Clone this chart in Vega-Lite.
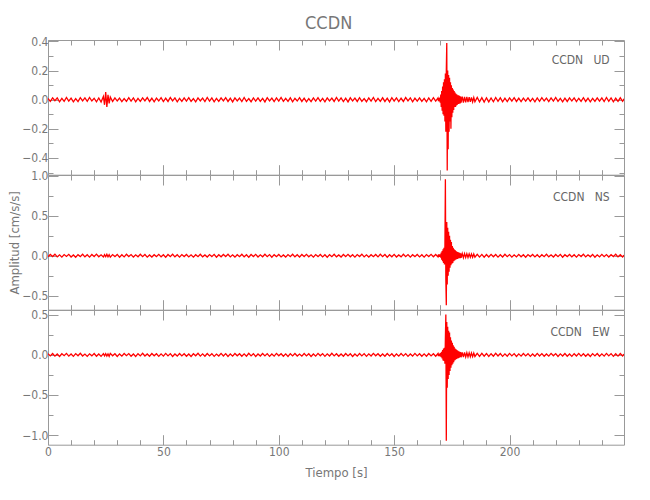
{
  "$schema": "https://vega.github.io/schema/vega-lite/v6.json",
  "padding": {"left": 8, "top": 15, "right": 5, "bottom": 5},
  "bounds": "flush",
  "title": {"text": "CCDN", "fontSize": 18, "font": "Liberation Sans Narrow, DejaVu Sans Condensed", "fontWeight": "normal", "color": "#777", "anchor": "middle", "offset": 2, "dx": 12},
  "config": {
    "view": {"stroke": null},
    "axis": {"grid": false, "domainColor": "#999", "tickColor": "#999", "labelColor": "#777", "labelFont": "Liberation Sans Narrow, DejaVu Sans Condensed", "labelFontSize": 12, "titleFont": "Liberation Sans Narrow, DejaVu Sans Condensed", "titleFontSize": 13, "titleFontWeight": "normal", "titleColor": "#777", "labelOverlap": false, "labelFlush": false}
  },
  "data": {"values": [
    {"t":0,"u":0.008,"n":-0.012,"e":0.015},{"t":1,"u":-0.011,"n":0.016,"e":-0.012},{"t":2,"u":0.013,"n":-0.01,"e":0.018},{"t":3,"u":-0.007,"n":0.019,"e":-0.016},
    {"t":4,"u":0.012,"n":-0.015,"e":0.011},{"t":5,"u":-0.014,"n":0.011,"e":-0.02},{"t":6,"u":0.009,"n":-0.018,"e":0.014},{"t":7,"u":-0.012,"n":0.014,"e":-0.01},
    {"t":8,"u":0.015,"n":-0.009,"e":0.019},{"t":9,"u":-0.01,"n":0.017,"e":-0.015},{"t":10,"u":0.011,"n":-0.016,"e":0.012},{"t":11,"u":-0.015,"n":0.01,"e":-0.018},
    {"t":12,"u":0.007,"n":-0.019,"e":0.016},{"t":13,"u":-0.013,"n":0.013,"e":-0.011},{"t":14,"u":0.014,"n":-0.011,"e":0.02},{"t":15,"u":-0.008,"n":0.018,"e":-0.014},
    {"t":16,"u":0.012,"n":-0.014,"e":0.01},{"t":17,"u":-0.011,"n":0.012,"e":-0.019},{"t":18,"u":0.016,"n":-0.017,"e":0.013},{"t":19,"u":-0.009,"n":0.015,"e":-0.012},
    {"t":20,"u":0.01,"n":-0.01,"e":0.017},{"t":21,"u":-0.014,"n":0.02,"e":-0.016},{"t":22,"u":0.012,"n":-0.013,"e":0.012},{"t":23,"u":-0.016,"n":0.011,"e":-0.018},
    {"t":24,"u":0.022,"n":-0.016,"e":0.015},{"t":24.5,"u":-0.035,"n":0.013,"e":-0.012},{"t":25,"u":0.052,"n":-0.012,"e":0.016},{"t":25.5,"u":-0.05,"n":0.017,"e":-0.014},
    {"t":26,"u":0.034,"n":-0.014,"e":0.013},{"t":26.5,"u":-0.026,"n":0.012,"e":-0.017},{"t":27,"u":0.018,"n":-0.018,"e":0.019},{"t":28,"u":-0.012,"n":0.014,"e":-0.011},
    {"t":29,"u":0.013,"n":-0.011,"e":0.014},{"t":30,"u":-0.009,"n":0.016,"e":-0.02},{"t":31,"u":0.011,"n":-0.019,"e":0.012},{"t":32,"u":-0.013,"n":0.012,"e":-0.015},
    {"t":33,"u":0.008,"n":-0.015,"e":0.018},{"t":34,"u":-0.012,"n":0.018,"e":-0.01},{"t":35,"u":0.014,"n":-0.01,"e":0.016},{"t":36,"u":-0.01,"n":0.014,"e":-0.017},
    {"t":37,"u":0.012,"n":-0.017,"e":0.011},{"t":38,"u":-0.015,"n":0.011,"e":-0.019},{"t":39,"u":0.009,"n":-0.013,"e":0.015},{"t":40,"u":-0.011,"n":0.019,"e":-0.012},
    {"t":41,"u":0.013,"n":-0.012,"e":0.02},{"t":42,"u":-0.008,"n":0.015,"e":-0.014},{"t":43,"u":0.015,"n":-0.018,"e":0.012},{"t":44,"u":-0.012,"n":0.01,"e":-0.016},
    {"t":45,"u":0.01,"n":-0.016,"e":0.017},{"t":46,"u":-0.014,"n":0.013,"e":-0.011},{"t":47,"u":0.011,"n":-0.011,"e":0.014},{"t":48,"u":-0.009,"n":0.017,"e":-0.018},
    {"t":49,"u":0.014,"n":-0.014,"e":0.013},{"t":50,"u":-0.013,"n":0.012,"e":-0.015},{"t":51,"u":0.01,"n":-0.019,"e":0.019},{"t":52,"u":-0.012,"n":0.015,"e":-0.012},
    {"t":53,"u":0.015,"n":-0.011,"e":0.016},{"t":54,"u":-0.008,"n":0.018,"e":-0.02},{"t":55,"u":0.012,"n":-0.014,"e":0.011},{"t":56,"u":-0.014,"n":0.012,"e":-0.015},
    {"t":57,"u":0.009,"n":-0.017,"e":0.018},{"t":58,"u":-0.011,"n":0.014,"e":-0.013},{"t":59,"u":0.013,"n":-0.01,"e":0.015},{"t":60,"u":-0.01,"n":0.016,"e":-0.017},
    {"t":61,"u":0.014,"n":-0.015,"e":0.012},{"t":62,"u":-0.012,"n":0.011,"e":-0.019},{"t":63,"u":0.008,"n":-0.018,"e":0.014},{"t":64,"u":-0.015,"n":0.013,"e":-0.011},
    {"t":65,"u":0.012,"n":-0.012,"e":0.02},{"t":66,"u":-0.009,"n":0.019,"e":-0.015},{"t":67,"u":0.011,"n":-0.014,"e":0.013},{"t":68,"u":-0.013,"n":0.01,"e":-0.016},
    {"t":69,"u":0.015,"n":-0.016,"e":0.017},{"t":70,"u":-0.01,"n":0.014,"e":-0.012},{"t":71,"u":0.012,"n":-0.011,"e":0.015},{"t":72,"u":-0.014,"n":0.017,"e":-0.018},
    {"t":73,"u":0.009,"n":-0.019,"e":0.011},{"t":74,"u":-0.011,"n":0.012,"e":-0.014},{"t":75,"u":0.013,"n":-0.013,"e":0.019},{"t":76,"u":-0.008,"n":0.016,"e":-0.013},
    {"t":77,"u":0.014,"n":-0.01,"e":0.016},{"t":78,"u":-0.012,"n":0.018,"e":-0.02},{"t":79,"u":0.01,"n":-0.015,"e":0.012},{"t":80,"u":-0.015,"n":0.011,"e":-0.015},
    {"t":81,"u":0.012,"n":-0.017,"e":0.018},{"t":82,"u":-0.009,"n":0.013,"e":-0.011},{"t":83,"u":0.011,"n":-0.012,"e":0.014},{"t":84,"u":-0.013,"n":0.019,"e":-0.017},
    {"t":85,"u":0.015,"n":-0.014,"e":0.013},{"t":86,"u":-0.011,"n":0.012,"e":-0.016},{"t":87,"u":0.008,"n":-0.018,"e":0.02},{"t":88,"u":-0.014,"n":0.015,"e":-0.012},
    {"t":89,"u":0.012,"n":-0.01,"e":0.015},{"t":90,"u":-0.01,"n":0.017,"e":-0.019},{"t":91,"u":0.013,"n":-0.016,"e":0.011},{"t":92,"u":-0.012,"n":0.011,"e":-0.014},
    {"t":93,"u":0.009,"n":-0.013,"e":0.017},{"t":94,"u":-0.015,"n":0.018,"e":-0.013},{"t":95,"u":0.014,"n":-0.012,"e":0.016},{"t":96,"u":-0.008,"n":0.014,"e":-0.018},
    {"t":97,"u":0.011,"n":-0.019,"e":0.012},{"t":98,"u":-0.013,"n":0.013,"e":-0.015},{"t":99,"u":0.012,"n":-0.011,"e":0.019},{"t":100,"u":-0.01,"n":0.016,"e":-0.011},
    {"t":101,"u":0.015,"n":-0.015,"e":0.014},{"t":102,"u":-0.012,"n":0.01,"e":-0.017},{"t":103,"u":0.009,"n":-0.017,"e":0.013},{"t":104,"u":-0.011,"n":0.014,"e":-0.02},
    {"t":105,"u":0.013,"n":-0.012,"e":0.015},{"t":106,"u":-0.014,"n":0.019,"e":-0.012},{"t":107,"u":0.01,"n":-0.014,"e":0.018},{"t":108,"u":-0.009,"n":0.012,"e":-0.014},
    {"t":109,"u":0.014,"n":-0.016,"e":0.011},{"t":110,"u":-0.012,"n":0.015,"e":-0.016},{"t":111,"u":0.011,"n":-0.01,"e":0.017},{"t":112,"u":-0.015,"n":0.017,"e":-0.013},
    {"t":113,"u":0.008,"n":-0.013,"e":0.014},{"t":114,"u":-0.013,"n":0.011,"e":-0.019},{"t":115,"u":0.012,"n":-0.018,"e":0.012},{"t":116,"u":-0.01,"n":0.014,"e":-0.015},
    {"t":117,"u":0.014,"n":-0.011,"e":0.019},{"t":118,"u":-0.011,"n":0.016,"e":-0.011},{"t":119,"u":0.009,"n":-0.015,"e":0.016},{"t":120,"u":-0.014,"n":0.012,"e":-0.018},
    {"t":121,"u":0.013,"n":-0.019,"e":0.013},{"t":122,"u":-0.008,"n":0.013,"e":-0.014},{"t":123,"u":0.011,"n":-0.012,"e":0.02},{"t":124,"u":-0.012,"n":0.018,"e":-0.012},
    {"t":125,"u":0.015,"n":-0.014,"e":0.015},{"t":126,"u":-0.01,"n":0.01,"e":-0.017},{"t":127,"u":0.012,"n":-0.016,"e":0.011},{"t":128,"u":-0.013,"n":0.015,"e":-0.016},
    {"t":129,"u":0.01,"n":-0.011,"e":0.018},{"t":130,"u":-0.015,"n":0.017,"e":-0.013},{"t":131,"u":0.013,"n":-0.013,"e":0.014},{"t":132,"u":-0.009,"n":0.012,"e":-0.019},
    {"t":133,"u":0.011,"n":-0.018,"e":0.012},{"t":134,"u":-0.012,"n":0.014,"e":-0.015},{"t":135,"u":0.014,"n":-0.01,"e":0.017},{"t":136,"u":-0.011,"n":0.019,"e":-0.012},
    {"t":137,"u":0.008,"n":-0.015,"e":0.016},{"t":138,"u":-0.014,"n":0.011,"e":-0.018},{"t":139,"u":0.012,"n":-0.017,"e":0.013},{"t":140,"u":-0.01,"n":0.013,"e":-0.014},
    {"t":141,"u":0.015,"n":-0.012,"e":0.019},{"t":142,"u":-0.013,"n":0.016,"e":-0.011},{"t":143,"u":0.009,"n":-0.014,"e":0.015},{"t":144,"u":-0.011,"n":0.018,"e":-0.017},
    {"t":145,"u":0.013,"n":-0.011,"e":0.012},{"t":146,"u":-0.012,"n":0.015,"e":-0.016},{"t":147,"u":0.011,"n":-0.019,"e":0.018},{"t":148,"u":-0.015,"n":0.012,"e":-0.013},
    {"t":149,"u":0.014,"n":-0.013,"e":0.014},{"t":150,"u":-0.009,"n":0.017,"e":-0.02},{"t":151,"u":0.012,"n":-0.016,"e":0.012},{"t":152,"u":-0.013,"n":0.01,"e":-0.015},
    {"t":153,"u":0.01,"n":-0.014,"e":0.017},{"t":154,"u":-0.012,"n":0.018,"e":-0.012},{"t":155,"u":0.015,"n":-0.012,"e":0.016},{"t":156,"u":-0.008,"n":0.014,"e":-0.018},
    {"t":157,"u":0.012,"n":-0.017,"e":0.011},{"t":158,"u":-0.014,"n":0.013,"e":-0.015},{"t":159,"u":0.011,"n":-0.011,"e":0.019},{"t":160,"u":-0.01,"n":0.016,"e":-0.013},
    {"t":161,"u":0.013,"n":-0.015,"e":0.014},{"t":162,"u":-0.012,"n":0.012,"e":-0.017},{"t":163,"u":0.009,"n":-0.018,"e":0.013},{"t":164,"u":-0.015,"n":0.014,"e":-0.016},
    {"t":165,"u":0.012,"n":-0.01,"e":0.018},{"t":166,"u":-0.011,"n":0.017,"e":-0.012},{"t":167,"u":0.014,"n":-0.013,"e":0.015},{"t":168,"u":-0.01,"n":0.015,"e":-0.016},
    {"t":169,"u":0.012,"n":-0.015,"e":0.018},{"t":169.2,"u":-0.01,"n":0.016,"e":-0.015},{"t":169.4,"u":0.011,"n":-0.014,"e":0.017},{"t":169.6,"u":-0.012,"n":0.017,"e":-0.016},
    {"t":169.8,"u":0.014,"n":-0.016,"e":0.015},{"t":170,"u":-0.02,"n":0.018,"e":-0.02},{"t":170.2,"u":0.035,"n":-0.025,"e":0.025},{"t":170.4,"u":-0.05,"n":0.04,"e":-0.03},
    {"t":170.6,"u":0.06,"n":-0.05,"e":0.04},{"t":170.8,"u":-0.075,"n":0.06,"e":-0.045},{"t":171,"u":0.09,"n":-0.07,"e":0.06},{"t":171.2,"u":-0.1,"n":0.08,"e":-0.07},
    {"t":171.4,"u":0.12,"n":-0.09,"e":0.08},{"t":171.6,"u":-0.11,"n":0.1,"e":-0.075},{"t":171.8,"u":0.14,"n":-0.11,"e":0.09},{"t":172,"u":-0.15,"n":0.13,"e":-0.11},
    {"t":172.2,"u":0.18,"n":0.955,"e":0.2},{"t":172.4,"u":-0.22,"n":-0.3,"e":0.505},{"t":172.6,"u":0.2,"n":-0.617,"e":-1.07},{"t":172.8,"u":0.39,"n":0.42,"e":0.41},
    {"t":173,"u":-0.486,"n":-0.36,"e":-0.41},{"t":173.2,"u":0.2,"n":0.35,"e":0.35},{"t":173.4,"u":-0.34,"n":-0.25,"e":-0.3},{"t":173.6,"u":0.17,"n":0.3,"e":0.3},
    {"t":173.8,"u":-0.22,"n":-0.2,"e":-0.25},{"t":174,"u":0.15,"n":0.25,"e":0.28},{"t":174.2,"u":-0.15,"n":-0.15,"e":-0.2},{"t":174.4,"u":0.12,"n":0.2,"e":0.22},
    {"t":174.6,"u":-0.2,"n":-0.12,"e":-0.16},{"t":174.8,"u":0.1,"n":0.17,"e":0.18},{"t":175,"u":-0.12,"n":-0.1,"e":-0.13},{"t":175.2,"u":0.08,"n":0.12,"e":0.15},
    {"t":175.4,"u":-0.09,"n":-0.09,"e":-0.11},{"t":175.6,"u":0.07,"n":0.1,"e":0.12},{"t":175.8,"u":-0.07,"n":-0.07,"e":-0.09},{"t":176,"u":0.06,"n":0.08,"e":0.1},
    {"t":176.2,"u":-0.05,"n":-0.06,"e":-0.07},{"t":176.4,"u":0.05,"n":0.07,"e":0.08},{"t":176.6,"u":-0.05,"n":-0.05,"e":-0.06},{"t":176.8,"u":0.04,"n":0.06,"e":0.07},
    {"t":177,"u":-0.04,"n":-0.045,"e":-0.05},{"t":177.2,"u":0.035,"n":0.05,"e":0.06},{"t":177.4,"u":-0.035,"n":-0.04,"e":-0.045},{"t":177.6,"u":0.03,"n":0.045,"e":0.05},
    {"t":177.8,"u":-0.03,"n":-0.035,"e":-0.04},{"t":178,"u":0.03,"n":0.04,"e":0.045},{"t":178.2,"u":-0.028,"n":-0.03,"e":-0.035},{"t":178.4,"u":0.025,"n":0.035,"e":0.04},
    {"t":178.6,"u":-0.025,"n":-0.03,"e":-0.03},{"t":178.8,"u":0.022,"n":0.03,"e":0.035},{"t":179,"u":-0.02,"n":-0.025,"e":-0.03},{"t":179.5,"u":0.022,"n":0.028,"e":0.03},
    {"t":180,"u":-0.02,"n":-0.025,"e":-0.028},{"t":180.5,"u":0.02,"n":0.026,"e":0.03},{"t":181,"u":-0.018,"n":-0.022,"e":-0.025},{"t":181.5,"u":0.019,"n":0.025,"e":0.027},
    {"t":182,"u":-0.017,"n":-0.022,"e":-0.024},{"t":182.5,"u":0.018,"n":0.024,"e":0.026},{"t":183,"u":-0.015,"n":-0.02,"e":-0.022},{"t":183.5,"u":0.016,"n":0.022,"e":0.024},
    {"t":184,"u":-0.015,"n":-0.02,"e":-0.021},{"t":184.5,"u":0.015,"n":0.021,"e":0.023},{"t":185,"u":-0.014,"n":-0.019,"e":-0.02},
    {"t":186,"u":0.016,"n":0.018,"e":0.019},{"t":187,"u":-0.015,"n":-0.017,"e":-0.018},{"t":188,"u":0.014,"n":0.016,"e":0.02},{"t":189,"u":-0.016,"n":-0.018,"e":-0.016},
    {"t":190,"u":0.013,"n":0.015,"e":0.018},{"t":191,"u":-0.015,"n":-0.016,"e":-0.019},{"t":192,"u":0.012,"n":0.017,"e":0.015},{"t":193,"u":-0.014,"n":-0.013,"e":-0.017},
    {"t":194,"u":0.015,"n":0.015,"e":0.019},{"t":195,"u":-0.011,"n":-0.017,"e":-0.014},{"t":196,"u":0.013,"n":0.012,"e":0.017},{"t":197,"u":-0.014,"n":-0.016,"e":-0.018},
    {"t":198,"u":0.01,"n":0.018,"e":0.013},{"t":199,"u":-0.013,"n":-0.012,"e":-0.016},{"t":200,"u":0.012,"n":0.014,"e":0.019},{"t":201,"u":-0.009,"n":-0.018,"e":-0.012},
    {"t":202,"u":0.014,"n":0.011,"e":0.016},{"t":203,"u":-0.012,"n":-0.015,"e":-0.019},{"t":204,"u":0.01,"n":0.017,"e":0.013},{"t":205,"u":-0.013,"n":-0.013,"e":-0.015},
    {"t":206,"u":0.011,"n":0.012,"e":0.018},{"t":207,"u":-0.01,"n":-0.019,"e":-0.012},{"t":208,"u":0.013,"n":0.014,"e":0.015},{"t":209,"u":-0.012,"n":-0.011,"e":-0.018},
    {"t":210,"u":0.009,"n":0.016,"e":0.012},{"t":211,"u":-0.014,"n":-0.015,"e":-0.016},{"t":212,"u":0.012,"n":0.012,"e":0.019},{"t":213,"u":-0.011,"n":-0.017,"e":-0.013},
    {"t":214,"u":0.014,"n":0.013,"e":0.016},{"t":215,"u":-0.009,"n":-0.012,"e":-0.017},{"t":216,"u":0.011,"n":0.018,"e":0.012},{"t":217,"u":-0.013,"n":-0.014,"e":-0.015},
    {"t":218,"u":0.012,"n":0.011,"e":0.019},{"t":219,"u":-0.01,"n":-0.016,"e":-0.011},{"t":220,"u":0.015,"n":0.015,"e":0.016},{"t":221,"u":-0.012,"n":-0.012,"e":-0.019},
    {"t":222,"u":0.009,"n":0.017,"e":0.013},{"t":223,"u":-0.014,"n":-0.018,"e":-0.014},{"t":224,"u":0.011,"n":0.013,"e":0.018},{"t":225,"u":-0.012,"n":-0.011,"e":-0.016},
    {"t":226,"u":0.013,"n":0.016,"e":0.012},{"t":227,"u":-0.009,"n":-0.014,"e":-0.018},{"t":228,"u":0.012,"n":0.012,"e":0.015},{"t":229,"u":-0.013,"n":-0.017,"e":-0.013},
    {"t":230,"u":0.01,"n":0.014,"e":0.019},{"t":231,"u":-0.011,"n":-0.01,"e":-0.015},{"t":232,"u":0.014,"n":0.018,"e":0.014},{"t":233,"u":-0.012,"n":-0.015,"e":-0.017},
    {"t":234,"u":0.011,"n":0.012,"e":0.012},{"t":235,"u":-0.014,"n":-0.013,"e":-0.019},{"t":236,"u":0.009,"n":0.016,"e":0.016},{"t":237,"u":-0.012,"n":-0.018,"e":-0.012},
    {"t":238,"u":0.013,"n":0.011,"e":0.018},{"t":239,"u":-0.01,"n":-0.015,"e":-0.016},{"t":240,"u":0.012,"n":0.017,"e":0.013},{"t":241,"u":-0.013,"n":-0.012,"e":-0.015},
    {"t":242,"u":0.015,"n":0.014,"e":0.019},{"t":243,"u":-0.011,"n":-0.016,"e":-0.012},{"t":244,"u":0.012,"n":0.013,"e":0.016},{"t":245,"u":-0.014,"n":-0.011,"e":-0.018},
    {"t":246,"u":0.01,"n":0.018,"e":0.014},{"t":247,"u":-0.012,"n":-0.014,"e":-0.015},{"t":248,"u":0.013,"n":0.012,"e":0.017},{"t":249,"u":-0.011,"n":-0.016,"e":-0.013},
    {"t":249.6,"u":0.006,"n":0.008,"e":0.01}
  ]},
  "spacing": 0,
  "vconcat": [
    {
      "width": 576, "height": 134.7,
      "layer": [
        {
          "mark": {"type": "line", "color": "#ff0000", "strokeWidth": 1.3, "clip": true},
          "encoding": {
            "x": {"field": "t", "type": "quantitative", "scale": {"domain": [0, 249.6], "nice": false, "zero": false},
                  "axis": {"orient": "bottom", "title": null, "labels": false, "values": [0,10,20,30,40,50,60,70,80,90,100,110,120,130,140,150,160,170,180,190,200,210,220,230,240],
                           "tickSize": {"condition": {"test": "datum.value % 50 === 0", "value": -10}, "value": -5}}},
            "y": {"field": "u", "type": "quantitative", "scale": {"domain": [-0.515, 0.41], "nice": false, "zero": false},
                  "axis": {"title": null, "format": ".1f", "values": [-0.5,-0.4,-0.3,-0.2,-0.1,0,0.1,0.2,0.3,0.4], "labelPadding": 10,
                           "labelExpr": "abs(round(datum.value*10)) % 2 === 0 ? datum.label : ''",
                           "tickSize": {"condition": {"test": "abs(round(datum.value*10)) % 2 === 0", "value": -10}, "value": -5}}}
          }
        },
        {
          "data": {"values": [{"label": "CCDN\u00a0\u00a0\u00a0UD"}]},
          "mark": {"type": "text", "align": "right", "baseline": "middle", "font": "Liberation Sans Narrow, DejaVu Sans Condensed", "fontSize": 12, "color": "#666"},
          "encoding": {
            "x": {"datum": 243.4, "type": "quantitative",
                  "axis": {"orient": "top", "title": null, "labels": false, "values": [0,10,20,30,40,50,60,70,80,90,100,110,120,130,140,150,160,170,180,190,200,210,220,230,240],
                           "tickSize": {"condition": {"test": "datum.value % 50 === 0", "value": -10}, "value": -5}}},
            "y": {"datum": 0.27, "type": "quantitative",
                  "axis": {"orient": "right", "title": null, "labels": false, "values": [-0.5,-0.4,-0.3,-0.2,-0.1,0,0.1,0.2,0.3,0.4],
                           "tickSize": {"condition": {"test": "abs(round(datum.value*10)) % 2 === 0", "value": -10}, "value": -5}}},
            "text": {"field": "label"}
          }
        }
      ],
      "resolve": {"axis": {"x": "independent", "y": "independent"}}
    },
    {
      "width": 576, "height": 134.7,
      "layer": [
        {
          "mark": {"type": "line", "color": "#ff0000", "strokeWidth": 1.3, "clip": true},
          "encoding": {
            "x": {"field": "t", "type": "quantitative", "scale": {"domain": [0, 249.6], "nice": false, "zero": false},
                  "axis": {"orient": "bottom", "title": null, "labels": false, "values": [0,10,20,30,40,50,60,70,80,90,100,110,120,130,140,150,160,170,180,190,200,210,220,230,240],
                           "tickSize": {"condition": {"test": "datum.value % 50 === 0", "value": -10}, "value": -5}}},
            "y": {"field": "n", "type": "quantitative", "scale": {"domain": [-0.674, 1.008], "nice": false, "zero": false},
                  "axis": {"title": "Amplitud [cm/s/s]", "titlePadding": 0, "format": ".1f", "values": [-0.5,-0.25,0,0.25,0.5,0.75,1.0], "labelPadding": 10,
                           "labelExpr": "round(datum.value*4) % 2 === 0 ? datum.label : ''",
                           "tickSize": {"condition": {"test": "round(datum.value*4) % 2 === 0", "value": -10}, "value": -5}}}
          }
        },
        {
          "data": {"values": [{"label": "CCDN\u00a0\u00a0\u00a0NS"}]},
          "mark": {"type": "text", "align": "right", "baseline": "middle", "font": "Liberation Sans Narrow, DejaVu Sans Condensed", "fontSize": 12, "color": "#666"},
          "encoding": {
            "x": {"datum": 243.4, "type": "quantitative",
                  "axis": {"orient": "top", "title": null, "labels": false, "values": [0,10,20,30,40,50,60,70,80,90,100,110,120,130,140,150,160,170,180,190,200,210,220,230,240],
                           "tickSize": {"condition": {"test": "datum.value % 50 === 0", "value": -10}, "value": -5}}},
            "y": {"datum": 0.737, "type": "quantitative",
                  "axis": {"orient": "right", "title": null, "labels": false, "values": [-0.5,-0.25,0,0.25,0.5,0.75,1.0],
                           "tickSize": {"condition": {"test": "round(datum.value*4) % 2 === 0", "value": -10}, "value": -5}}},
            "text": {"field": "label"}
          }
        }
      ],
      "resolve": {"axis": {"x": "independent", "y": "independent"}}
    },
    {
      "width": 576, "height": 134.7,
      "layer": [
        {
          "mark": {"type": "line", "color": "#ff0000", "strokeWidth": 1.3, "clip": true},
          "encoding": {
            "x": {"field": "t", "type": "quantitative", "scale": {"domain": [0, 249.6], "nice": false, "zero": false},
                  "axis": {"orient": "bottom", "title": "Tiempo [s]", "titlePadding": 4, "labelPadding": 12, "format": "d", "values": [0,10,20,30,40,50,60,70,80,90,100,110,120,130,140,150,160,170,180,190,200,210,220,230,240],
                           "labelExpr": "datum.value % 50 === 0 ? datum.label : ''",
                           "tickSize": {"condition": {"test": "datum.value % 50 === 0", "value": -10}, "value": -5}}},
            "y": {"field": "e", "type": "quantitative", "scale": {"domain": [-1.12, 0.56], "nice": false, "zero": false},
                  "axis": {"title": null, "format": ".1f", "values": [-1.0,-0.75,-0.5,-0.25,0,0.25,0.5], "labelPadding": 10,
                           "labelExpr": "round(datum.value*4) % 2 === 0 ? datum.label : ''",
                           "tickSize": {"condition": {"test": "round(datum.value*4) % 2 === 0", "value": -10}, "value": -5}}}
          }
        },
        {
          "data": {"values": [{"label": "CCDN\u00a0\u00a0\u00a0EW"}]},
          "mark": {"type": "text", "align": "right", "baseline": "middle", "font": "Liberation Sans Narrow, DejaVu Sans Condensed", "fontSize": 12, "color": "#666"},
          "encoding": {
            "x": {"datum": 243.4, "type": "quantitative",
                  "axis": {"orient": "top", "title": null, "labels": false, "values": [0,10,20,30,40,50,60,70,80,90,100,110,120,130,140,150,160,170,180,190,200,210,220,230,240],
                           "tickSize": {"condition": {"test": "datum.value % 50 === 0", "value": -10}, "value": -5}}},
            "y": {"datum": 0.289, "type": "quantitative",
                  "axis": {"orient": "right", "title": null, "labels": false, "values": [-1.0,-0.75,-0.5,-0.25,0,0.25,0.5],
                           "tickSize": {"condition": {"test": "round(datum.value*4) % 2 === 0", "value": -10}, "value": -5}}},
            "text": {"field": "label"}
          }
        }
      ],
      "resolve": {"axis": {"x": "independent", "y": "independent"}}
    }
  ]
}
